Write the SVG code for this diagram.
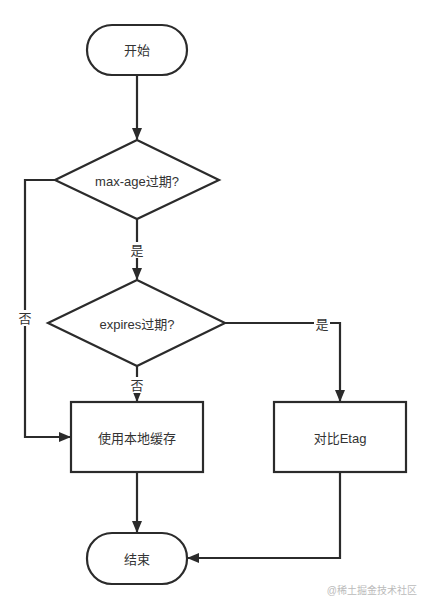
<svg xmlns="http://www.w3.org/2000/svg" width="431" height="609" viewBox="0 0 431 609">
<style>
.s{fill:#fff;stroke:#2b2b2b;stroke-width:2.2}
.t{font-family:"Liberation Sans","Noto Sans CJK SC",sans-serif;font-size:13px;fill:#333;text-anchor:middle;dominant-baseline:central}
.c{fill:none;stroke:#2b2b2b;stroke-width:2.2}
.lb{fill:#fff}
</style>
<defs>
<marker id="a" markerWidth="12" markerHeight="10" refX="11" refY="5" orient="auto" markerUnits="userSpaceOnUse" viewBox="0 0 12 10">
<path d="M0,0 L12,5 L0,10 z" fill="#2b2b2b"/>
</marker>
</defs>
<rect width="431" height="609" fill="#fff"/>
<g id="connectors">
<path class="c" d="M137,75 V139" marker-end="url(#a)"/>
<path class="c" d="M137,219 V279" marker-end="url(#a)"/>
<path class="c" d="M55,180 H25 V437 H70" marker-end="url(#a)"/>
<path class="c" d="M137,366 V401" marker-end="url(#a)"/>
<path class="c" d="M225,323 H340 V401" marker-end="url(#a)"/>
<path class="c" d="M137,472 V532" marker-end="url(#a)"/>
<path class="c" d="M340,472 V558 H188" marker-end="url(#a)"/>
<rect class="lb" x="129" y="242" width="16" height="16"/>
<text class="t" x="137" y="250">是</text>
<rect class="lb" x="17" y="310" width="16" height="16"/>
<text class="t" x="25" y="318">否</text>
<rect class="lb" x="129" y="377" width="16" height="16"/>
<text class="t" x="137" y="385">否</text>
<rect class="lb" x="314" y="316" width="16" height="16"/>
<text class="t" x="322" y="324">是</text>
</g>
<g id="start">
<rect class="s" x="87" y="25" width="100" height="50" rx="25" ry="25"/>
<text class="t" x="137" y="50">开始</text>
</g>
<g id="d1">
<polygon class="s" points="137,140 219,180 137,219 55,180"/>
<text class="t" x="137" y="181">max-age过期?</text>
</g>
<g id="d2">
<polygon class="s" points="137,280 225,323 137,366 48,323"/>
<text class="t" x="137" y="324">expires过期?</text>
</g>
<g id="cache">
<rect class="s" x="71" y="402" width="132" height="70"/>
<text class="t" x="137" y="438">使用本地缓存</text>
</g>
<g id="etag">
<rect class="s" x="274" y="402" width="132" height="70"/>
<text class="t" x="340" y="438">对比Etag</text>
</g>
<g id="end">
<rect class="s" x="87" y="533" width="100" height="51" rx="25" ry="25"/>
<text class="t" x="137" y="559">结束</text>
</g>
<text x="417" y="594" style="font-family:'Liberation Sans','Noto Sans CJK SC',sans-serif;font-size:10px;fill:#bbb;text-anchor:end">@稀土掘金技术社区</text>
</svg>
